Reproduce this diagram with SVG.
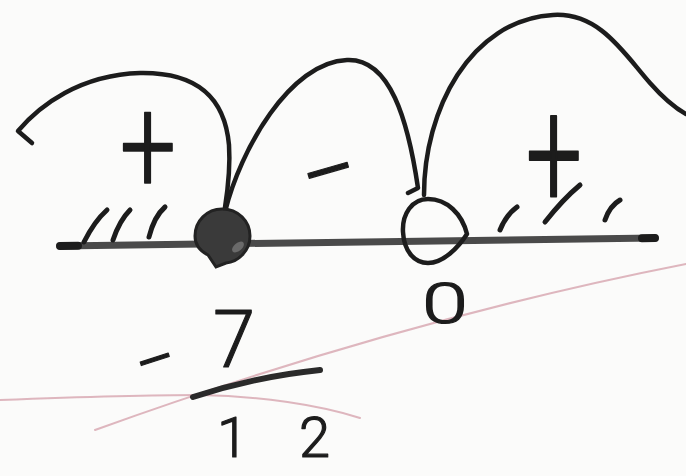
<svg xmlns="http://www.w3.org/2000/svg" width="686" height="476" viewBox="0 0 686 476">
<style>
.ink{fill:none;stroke:#1c1c1c;stroke-width:4.5;stroke-linecap:round;stroke-linejoin:round}
.hatch{fill:none;stroke:#1c1c1c;stroke-width:5;stroke-linecap:round}
.paper{fill:none;stroke:#d8a9b3;stroke-width:2;stroke-linecap:round;opacity:0.85}
.lbl{font-family:Roboto,"Liberation Sans",sans-serif;font-weight:300;fill:#1c1c1c;stroke:#1c1c1c;stroke-width:1.2;stroke-linejoin:round}
</style>
<rect width="686" height="476" fill="#fbfbfa"/>
<g id="paper-lines">
<path class="paper" d="M0,400 C80,397 160,395 200,395 C260,396 320,405 360,418"/>
<path class="paper" d="M95,430 Q400,320 686,264"/>
</g>
<g id="number-line">
<path d="M60,246 L655,238" fill="none" stroke="#4a4a4a" stroke-width="7" stroke-linecap="round"/>
<path d="M60,246 L78,245.8" fill="none" stroke="#1c1c1c" stroke-width="8" stroke-linecap="round"/>
<path d="M642,238.2 L655,238" fill="none" stroke="#1c1c1c" stroke-width="8" stroke-linecap="round"/>
<path class="hatch" d="M84,242 C90,230 98,218 107,210"/>
<path class="hatch" d="M113,240 C117,228 122,218 130,210"/>
<path class="hatch" d="M149,237 C152,225 157,214 165,207"/>
<path class="hatch" d="M500,230 C504,220 510,212 517,207"/>
<path class="hatch" d="M545,222 C556,208 568,195 580,185"/>
<path class="hatch" d="M605,220 C608,211 613,204 620,200"/>
</g>
<g id="connectors">
<path class="ink" d="M32,143 L18,131 C40,105 80,75 140,73 C200,72 225,100 229,145 C231,175 226,200 224,214"/>
<path class="ink" d="M225,212 C240,150 290,62 347,60 C390,58 408,120 418,188 L408,193"/>
<path class="ink" d="M424,195 C424,110 470,20 553,15 C600,12 625,55 650,83 C665,100 675,108 686,114"/>
</g>
<g id="point-neg7-12">
<path d="M222,209 C238,209 250,221 250,236 C250,251 238,262 226,263 L216,267 L208,255 C198,250 195,243 195,236 C195,221 207,209 222,209 Z" fill="#3a3a3a" stroke="#222" stroke-width="3"/>
<ellipse cx="238" cy="247" rx="7" ry="4" fill="#8a8a8a" opacity="0.6" transform="rotate(-40 238 247)"/>
</g>
<g id="point-0">
<path class="ink" d="M428,199 C412,199 402,214 403,232 C404,252 415,263 428,263 C443,263 458,248 467,234 C462,214 447,199 428,199 Z"/>
</g>
<g id="signs">
<text class="lbl" x="0" y="0" font-size="100" text-anchor="middle" transform="translate(148,150) scale(1,1.35)" dy="32">+</text>
<text class="lbl" x="0" y="0" font-size="100" text-anchor="middle" transform="translate(554,158) scale(1,1.55)" dy="32">+</text>
<text class="lbl" x="0" y="0" font-size="100" text-anchor="middle" transform="translate(330,176) rotate(-16)" dy="30">−</text>
</g>
<g id="label-0">
<text class="lbl" x="422" y="323" font-size="56" textLength="46" lengthAdjust="spacingAndGlyphs">0</text>
</g>
<g id="label-fraction">
<text class="lbl" x="0" y="0" font-size="72" text-anchor="middle" transform="translate(156,363) rotate(-18)" dy="22">−</text>
<text class="lbl" x="213" y="367" font-size="80" textLength="42" lengthAdjust="spacingAndGlyphs">7</text>
<path d="M193,397 C230,385 270,375 320,370" fill="none" stroke="#2a2a2a" stroke-width="6" stroke-linecap="round"/>
<text class="lbl" x="217" y="457" font-size="56" textLength="113" lengthAdjust="spacing">12</text>
</g>
</svg>
